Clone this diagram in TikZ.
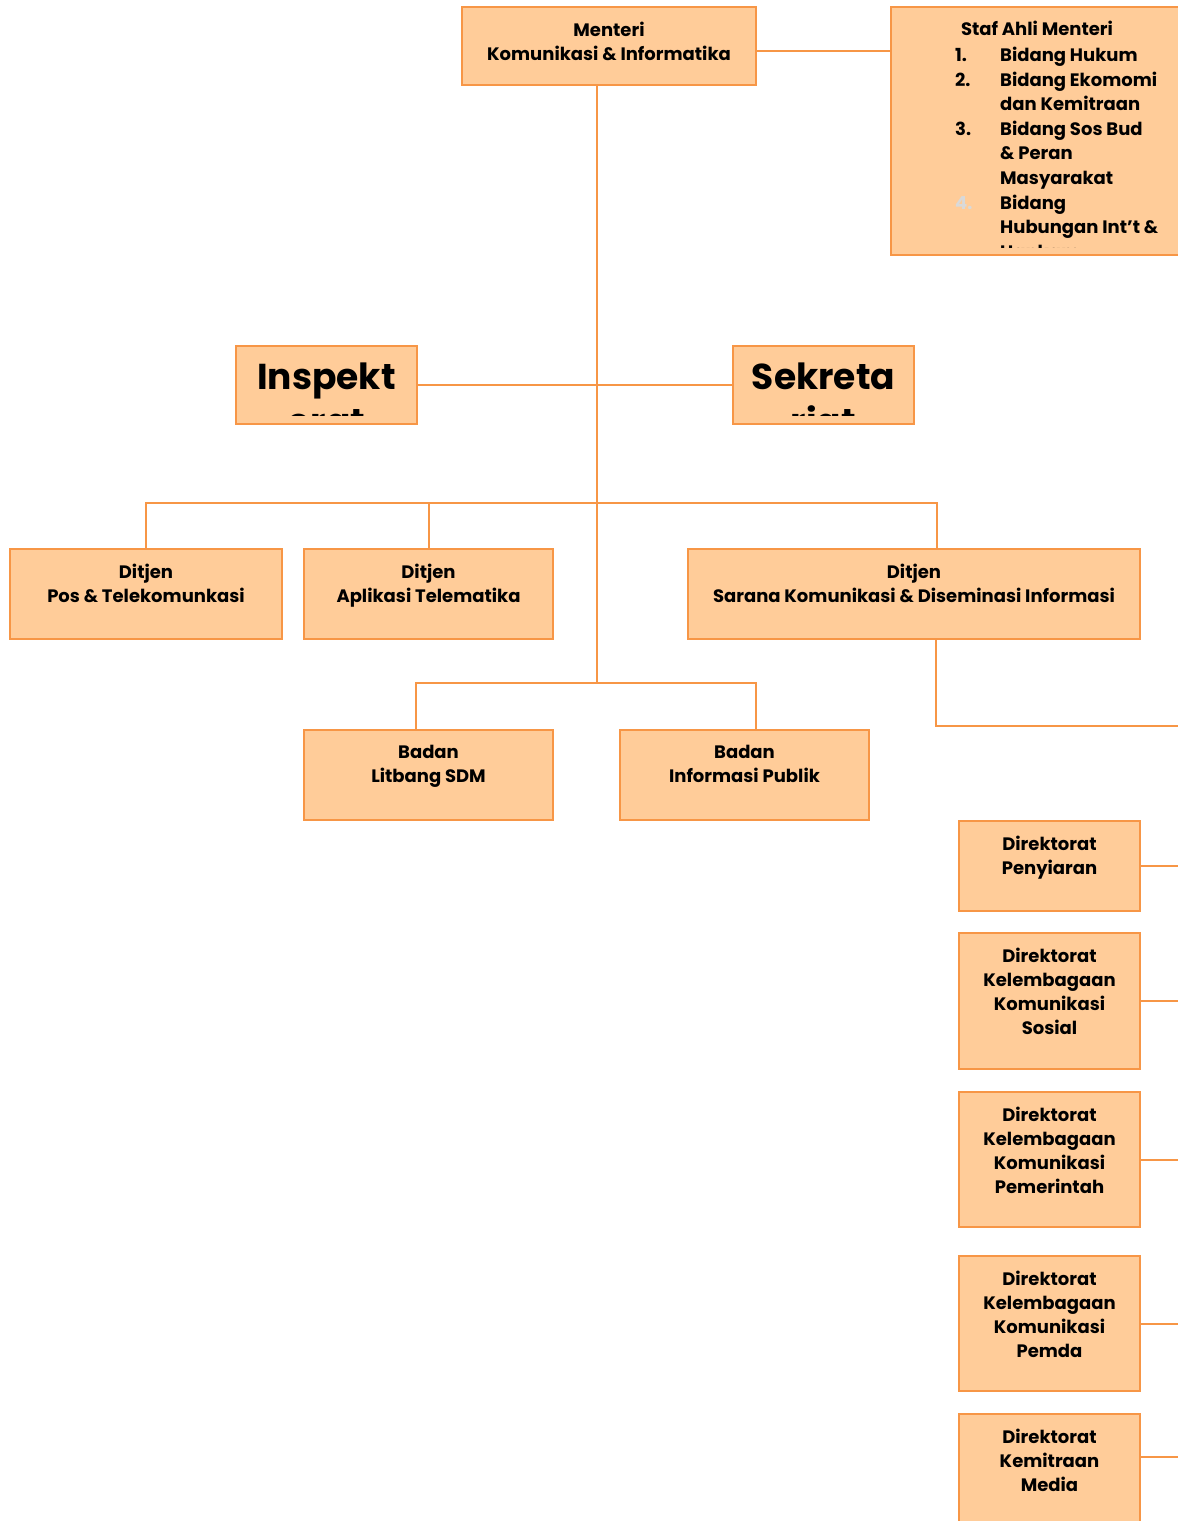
\documentclass[tikz,border=0pt]{standalone}
\usepackage{fontspec}
\setmainfont{Poppins}
\usetikzlibrary{positioning}
\definecolor{garis}{RGB}{247,150,70}
\definecolor{isian}{RGB}{255,204,153}
\definecolor{abu}{RGB}{217,217,217}

\begin{document}
\begin{tikzpicture}[x=1pt,y=-1pt,
  kotak/.style={draw=garis,fill=isian,line width=2pt,anchor=north west,inner sep=0pt},
  isi/.style={font=\bfseries\fontsize{18}{24}\selectfont,align=center,inner sep=0pt,anchor=north},
  besar/.style={font=\bfseries\fontsize{36}{45}\selectfont,align=center,inner sep=0pt,anchor=north},
  hubung/.style={draw=garis,line width=2pt}]
\clip (0,0) rectangle (1178,1521);

\node[kotak,minimum width=294,minimum height=78] (menteri) at (461,6) {};
\node[kotak,minimum width=300,minimum height=248] (staf) at (890,6) {};
\node[kotak,minimum width=181,minimum height=78] (insp) at (235,345) {};
\node[kotak,minimum width=181,minimum height=78] (sekr) at (732,345) {};
\node[kotak,minimum width=272,minimum height=90] (pos) at (9,548) {};
\node[kotak,minimum width=249,minimum height=90] (apl) at (303,548) {};
\node[kotak,minimum width=452,minimum height=90] (sarana) at (687,548) {};
\node[kotak,minimum width=249,minimum height=90] (litbang) at (303,729) {};
\node[kotak,minimum width=249,minimum height=90] (infopub) at (619,729) {};
\node[kotak,minimum width=181,minimum height=90] (penyiaran) at (958,820) {};
\node[kotak,minimum width=181,minimum height=136] (kksosial) at (958,932) {};
\node[kotak,minimum width=181,minimum height=135] (kkpem) at (958,1091) {};
\node[kotak,minimum width=181,minimum height=135] (kkpemda) at (958,1255) {};
\node[kotak,minimum width=181,minimum height=140] (media) at (958,1413) {};

\node[isi,below=16pt of menteri.north] (menteriisi) {Menteri\\Komunikasi \& Informatika};
\node[isi,below=16pt of pos.north] (posisi) {Ditjen\\Pos \& Telekomunkasi};
\node[isi,below=16pt of apl.north] (aplisi) {Ditjen\\Aplikasi Telematika};
\node[isi,below=16pt of sarana.north] (saranaisi) {Ditjen\\Sarana Komunikasi \& Diseminasi Informasi};
\node[isi,below=16pt of litbang.north] (litbangisi) {Badan\\Litbang SDM};
\node[isi,below=16pt of infopub.north] (infopubisi) {Badan\\Informasi Publik};
\node[isi,below=16pt of penyiaran.north] (penyiaranisi) {Direktorat\\Penyiaran};
\node[isi,below=16pt of kksosial.north] (kksosialisi) {Direktorat\\Kelembagaan\\Komunikasi\\Sosial};
\node[isi,below=16pt of kkpem.north] (kkpemisi) {Direktorat\\Kelembagaan\\Komunikasi\\Pemerintah};
\node[isi,below=16pt of kkpemda.north] (kkpemdaisi) {Direktorat\\Kelembagaan\\Komunikasi\\Pemda};
\node[isi,below=16pt of media.north] (mediaisi) {Direktorat\\Kemitraan\\Media};

\begin{scope}
  \clip (staf.north west) rectangle ([yshift=9pt]staf.south east);
  \node[isi] (stafjudul) at (1037,21) {Staf Ahli Menteri};
  \node[isi,anchor=north west,align=left] (stafdaftar) at (955,44)
    {\fontsize{18}{24.6}\selectfont
     \begin{tabular}{@{}p{45pt}@{}l@{}}
     1. & Bidang Hukum\\
     2. & Bidang Ekomomi\\
        & dan Kemitraan\\
     3. & Bidang Sos Bud\\
        & \& Peran\\
        & Masyarakat\\
     \textcolor{abu}{4.} & Bidang\\
        & Hubungan Int’t \&\\
        & Hankam
     \end{tabular}};
\end{scope}
\begin{scope}
  \clip (insp.north west) rectangle ([yshift=10pt]insp.south east);
  \node[besar,below=18pt of insp.north] (inspisi) {Inspekt\\orat};
\end{scope}
\begin{scope}
  \clip (sekr.north west) rectangle ([yshift=10pt]sekr.south east);
  \node[besar,below=18pt of sekr.north] (sekrisi) {Sekreta\\riat};
\end{scope}

\coordinate (poros) at (597,0);
\coordinate (simpul2) at (597,503);
\coordinate (simpul3) at (597,683);
\coordinate (ujung) at (1178,726);
\coordinate (kanan) at (1178,0);

\draw[hubung] ([yshift=-5pt]menteri.east) -- ([yshift=-5pt]menteri.east -| staf.west);
\draw[hubung] (menteri.south -| poros) -- (simpul3);
\draw[hubung] (insp.east) -- (sekr.west);
\draw[hubung] (pos.north) |- (simpul2) -| ([xshift=23pt]sarana.north);
\draw[hubung] (apl.north) -- (apl.north |- simpul2);
\draw[hubung] ([xshift=-13pt]litbang.north) |- (simpul3) -| ([xshift=11pt]infopub.north);
\draw[hubung] ([xshift=22pt]sarana.south) |- (ujung);
\foreach \d in {penyiaran,kksosial,kkpem,kkpemda}
  \draw[hubung] (\d.east) -- (\d.east -| kanan);
\draw[hubung] ([yshift=27pt]media.east) -- ([yshift=27pt]media.east -| kanan);
\end{tikzpicture}
\end{document}
